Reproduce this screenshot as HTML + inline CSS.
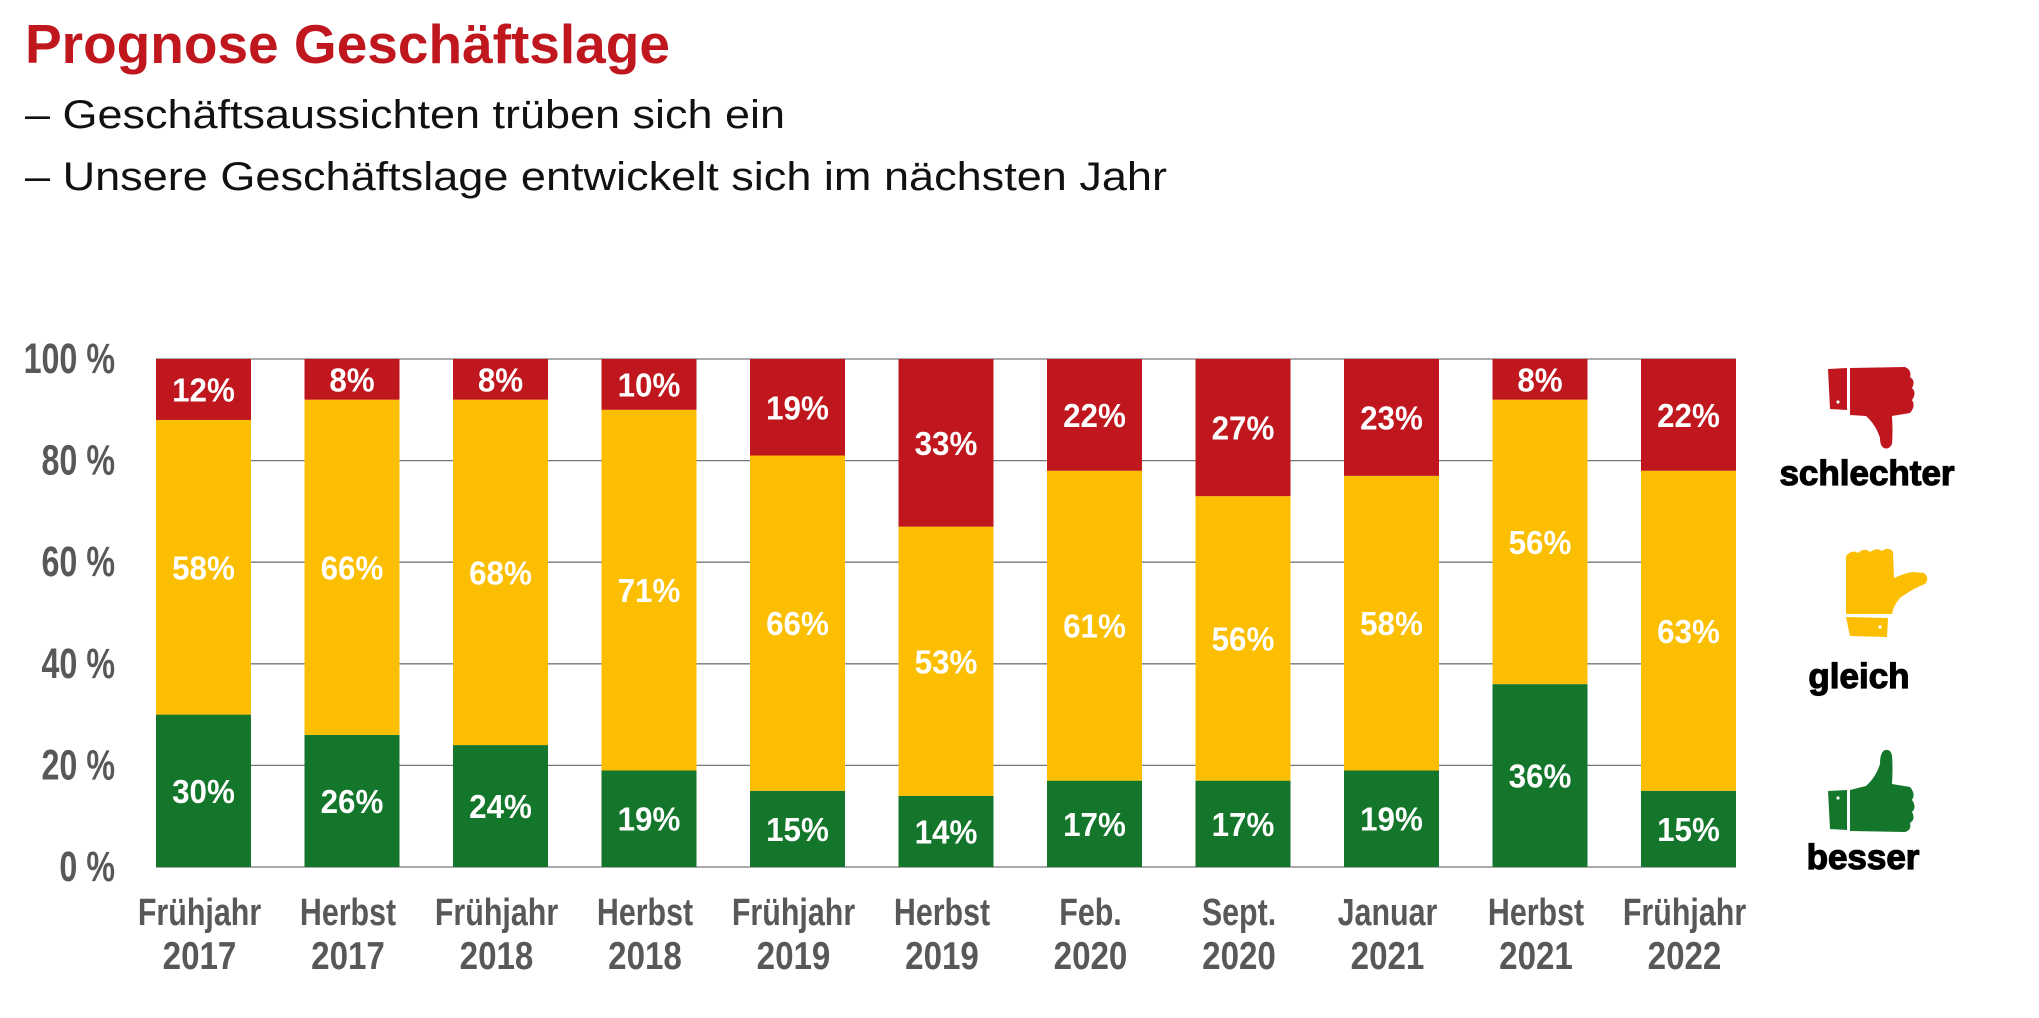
<!DOCTYPE html>
<html><head><meta charset="utf-8"><style>
html,body{margin:0;padding:0;background:#fff;}
svg{display:block;}
</style></head><body>
<svg id="chart" width="2039" height="1018" viewBox="0 0 2039 1018" xmlns="http://www.w3.org/2000/svg">
<text x="25" y="63" font-family="Liberation Sans, sans-serif" font-weight="bold" font-size="55" fill="#C0171F">Prognose Geschäftslage</text>
<text x="25" y="128" font-family="Liberation Sans, sans-serif" font-size="40" fill="#111" textLength="760" lengthAdjust="spacingAndGlyphs">– Geschäftsaussichten trüben sich ein</text>
<text x="25" y="190" font-family="Liberation Sans, sans-serif" font-size="40" fill="#111" textLength="1142" lengthAdjust="spacingAndGlyphs">– Unsere Geschäftslage entwickelt sich im nächsten Jahr</text>
<g id="grid"></g>
<g id="bars"></g>
<g id="labels"></g>
<g>
  <g fill="#C0171F">
    <path d="M1828 369 L1847 368 L1847 410 L1830 409 Z"/>
    <path d="M1850 368 L1905 367 Q1912 370 1910 377 Q1916 381 1912 388 Q1917 393 1912 400 Q1916 406 1910 413 L1892 416 Q1893 432 1892 444 Q1889 450 1884 448 Q1880 446 1880 438 Q1876 425 1866 416 L1850 415 Z"/>
    <circle cx="1838" cy="402" r="1.6" fill="#fff"/>
  </g>
  <text x="1867" y="485" text-anchor="middle" font-family="Liberation Sans, sans-serif" font-weight="bold" font-size="35" fill="#000" stroke="#000" stroke-width="1.2">schlechter</text>
  <g fill="#FBBE00">
    <path d="M1846 556 Q1852 549 1858 553 Q1864 547 1870 552 Q1877 547 1882 551 Q1889 546 1893 552 L1894 578 Q1905 573 1913 572 L1924 573 Q1930 578 1925 584 Q1912 589 1900 598 Q1893 606 1892 614 L1846 614 Z"/>
    <path d="M1846 617 L1888 618 L1887 637 L1850 636 Z"/>
    <circle cx="1880" cy="627" r="1.6" fill="#fff"/>
  </g>
  <text x="1859" y="688" text-anchor="middle" font-family="Liberation Sans, sans-serif" font-weight="bold" font-size="35" fill="#000" stroke="#000" stroke-width="1.2">gleich</text>
  <g fill="#13762B">
    <path d="M1828 791 L1847 790 L1847 830 L1830 829 Z"/>
    <path d="M1850 790 L1866 786 Q1876 777 1880 764 Q1880 752 1885 750 Q1891 749 1892 756 Q1893 768 1892 784 L1910 787 Q1916 794 1912 800 Q1917 807 1912 812 Q1916 819 1910 823 Q1912 830 1905 832 L1850 831 Z"/>
    <circle cx="1838" cy="798" r="1.6" fill="#fff"/>
  </g>
  <text x="1863" y="869" text-anchor="middle" font-family="Liberation Sans, sans-serif" font-weight="bold" font-size="35" fill="#000" stroke="#000" stroke-width="1.2">besser</text>
</g>
</svg>
<script>
const categoriesLine1 = ["Frühjahr","Herbst","Frühjahr","Herbst","Frühjahr","Herbst","Feb.","Sept.","Januar","Herbst","Frühjahr"];
const categoriesLine2 = ["2017","2017","2018","2018","2019","2019","2020","2020","2021","2021","2022"];
const besser = [30,26,24,19,15,14,17,17,19,36,15];
const gleich = [58,66,68,71,66,53,61,56,58,56,63];
const schlechter = [12,8,8,10,19,33,22,27,23,8,22];
const yTicks = [0,20,40,60,80,100];

const NS = "http://www.w3.org/2000/svg";
const plotTop = 359, plotBottom = 867, firstX = 156, pitch = 148.5, barW = 95;
function yScale(v){ return plotBottom - (v/100)*(plotBottom-plotTop); }
function xScale(i){ return firstX + i*pitch; }
function mk(tag, attrs, parent){
  const e = document.createElementNS(NS, tag);
  for (const k in attrs) e.setAttribute(k, attrs[k]);
  parent.appendChild(e);
  return e;
}
const grid = document.getElementById('grid');
const barsG = document.getElementById('bars');
const labelsG = document.getElementById('labels');
const gridRight = xScale(categoriesLine1.length-1) + barW;

yTicks.forEach(t => {
  const y = yScale(t);
  const ln = mk('line', {x1: firstX, x2: gridRight, y1: y, y2: y, stroke: '#777', 'stroke-width': 1.3}, grid);
  
  
  const tx = mk('text', {transform: `translate(115,${y+14}) scale(0.75,1)`, 'text-anchor': 'end',
    'font-family': 'Liberation Sans, sans-serif', 'font-weight': 'bold', 'font-size': 43, fill: '#58585a'}, grid);
  tx.textContent = t + ' %';
  
  
});

const series = [
  {vals: besser, color: '#13762B', name: 'besser'},
  {vals: gleich, color: '#FBBE00', name: 'gleich'},
  {vals: schlechter, color: '#C0171F', name: 'schlechter'}
];
categoriesLine1.forEach((c, i) => {
  const x = xScale(i);
  let acc = 0;
  series.forEach(s => {
    const v = s.vals[i];
    const y0 = yScale(acc), y1 = yScale(acc + v);
    const r = mk('rect', {x: x, y: y1, width: barW, height: y0 - y1, fill: s.color}, barsG);
    
    
    const t = mk('text', {transform: `translate(${x + barW/2},${(y0+y1)/2 + 12}) scale(0.95,1)`, 'text-anchor': 'middle',
      'font-family': 'Liberation Sans, sans-serif', 'font-weight': 'bold', 'font-size': 33, fill: '#fff'}, labelsG);
    t.textContent = v + '%';
    
    
    acc += v;
  });
  const l1 = mk('text', {transform: `translate(${x + barW/2 - 4},925) scale(0.8,1)`, 'text-anchor': 'middle',
    'font-family': 'Liberation Sans, sans-serif', 'font-weight': 'bold', 'font-size': 38, fill: '#58585a'}, labelsG);
  l1.textContent = c;
  
  
  const l2 = mk('text', {transform: `translate(${x + barW/2 - 4},969) scale(0.85,1)`, 'text-anchor': 'middle',
    'font-family': 'Liberation Sans, sans-serif', 'font-weight': 'bold', 'font-size': 39, fill: '#58585a'}, labelsG);
  l2.textContent = categoriesLine2[i];
  
  
});
</script>
</body></html>
